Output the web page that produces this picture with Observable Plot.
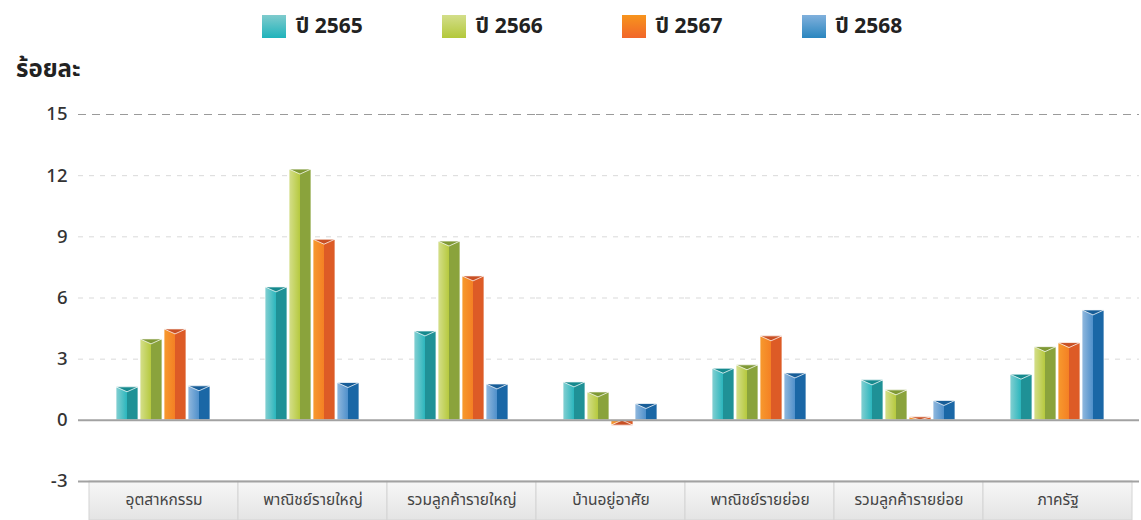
<!DOCTYPE html>
<html><head><meta charset="utf-8">
<script src="https://cdn.jsdelivr.net/npm/d3@7"></script>
<script src="https://cdn.jsdelivr.net/npm/@observablehq/plot@0.6"></script>
<style>
body{margin:0;background:#fff;font-family:"Noto Sans Thai","Noto Sans",sans-serif;color:#222;}
#legend{height:50px;display:flex;align-items:center;padding-left:262px;gap:79px;box-sizing:border-box;padding-top:2px;}
.item{display:flex;align-items:center;gap:10px;font-weight:700;font-size:21px;color:#222;}
.sw{width:24px;height:23px;}
#ylabel{height:45px;box-sizing:border-box;padding-left:16px;padding-top:2px;font-weight:700;font-size:24px;color:#222;}
</style></head>
<body>
<svg width="0" height="0" style="position:absolute"><defs id="defs"></defs></svg>
<div id="legend"></div>
<div id="ylabel">ร้อยละ</div>
<div id="chart"></div>
<script>
const categories = ["อุตสาหกรรม","พาณิชย์รายใหญ่","รวมลูกค้ารายใหญ่","บ้านอยู่อาศัย","พาณิชย์รายย่อย","รวมลูกค้ารายย่อย","ภาครัฐ"];
const years = ["ปี 2565","ปี 2566","ปี 2567","ปี 2568"];
const v2565 = [1.62, 6.52, 4.36, 1.86, 2.53, 1.96, 2.24];
const v2566 = [3.97, 12.3, 8.77, 1.37, 2.70, 1.47, 3.59];
const v2567 = [4.46, 8.86, 7.06, -0.26, 4.12, 0.15, 3.79];
const v2568 = [1.67, 1.83, 1.76, 0.80, 2.30, 0.95, 5.39];
const yTicks = [-3, 0, 3, 6, 9, 12, 15];
const gridTicks = [3, 6, 9, 12];
const topTick = [15];
const baseTicks = [0, -3];
const colLight = ["#85d0d2", "#d5df8c", "#f79a2e", "#92b9de"];
const colMid   = ["#2bb6bd", "#b6c93e", "#f48024", "#4f90cb"];
const colDark  = ["#1f9196", "#8aa33c", "#dd5b26", "#1a67a6"];
const colTop   = ["#168a8e", "#7f9935", "#c95024", "#175d98"];
const swTop    = ["#7fcbcd", "#d3de8a", "#f7941d", "#80b0dc"];
const swBot    = ["#1fb3bb", "#b3c83a", "#f1662a", "#2a86bf"];

const series = [v2565, v2566, v2567, v2568];
const data = categories.flatMap((c, i) => years.map((y, j) => ({cat: c, year: y, value: series[j][i]})));

// gradients
const defs = d3.select("#defs");
years.forEach((y, j) => {
  const g = defs.append("linearGradient").attr("id", "bar" + j).attr("x1", 0).attr("x2", 1).attr("y1", 0).attr("y2", 0);
  g.append("stop").attr("offset", 0).attr("stop-color", colLight[j]);
  g.append("stop").attr("offset", 0.5).attr("stop-color", colMid[j]);
  g.append("stop").attr("offset", 0.5).attr("stop-color", colDark[j]);
  g.append("stop").attr("offset", 1).attr("stop-color", colDark[j]);
});
const bg = defs.append("linearGradient").attr("id", "catbg").attr("x1", 0).attr("x2", 0).attr("y1", 0).attr("y2", 1);
bg.append("stop").attr("offset", 0).attr("stop-color", "#f7f7f7");
bg.append("stop").attr("offset", 1).attr("stop-color", "#e4e4e4");

// legend
const leg = d3.select("#legend");
years.forEach((y, j) => {
  const it = leg.append("div").attr("class", "item");
  it.append("div").attr("class", "sw").style("background", `linear-gradient(${swTop[j]}, ${swBot[j]})`);
  it.append("span").text(y);
});

// horizontal rules, split per facet so they run continuously across the plot
const first = categories[0], last = categories[categories.length - 1];
function rules(ticks, opts) {
  const rows = categories.flatMap(c => ticks.map(t => ({cat: c, t})));
  return [
    Plot.ruleY(rows.filter(d => d.cat === first), {fx: "cat", y: "t", insetLeft: -11, ...opts}),
    Plot.ruleY(rows.filter(d => d.cat !== first && d.cat !== last), {fx: "cat", y: "t", ...opts}),
    Plot.ruleY(rows.filter(d => d.cat === last), {fx: "cat", y: "t", insetRight: -7, ...opts})
  ];
}

const font = '"Noto Sans Thai","Noto Sans",sans-serif';
const chart = Plot.plot({
  width: 1141, height: 425,
  marginTop: 19, marginBottom: 39, marginLeft: 87, marginRight: 7,
  style: {fontFamily: font, color: "#333", background: "transparent", overflow: "visible"},
  fx: {domain: categories, padding: 0, label: null, axis: null},
  x: {domain: years, paddingInner: 0.07, paddingOuter: 1.03, axis: null},
  y: {domain: [-3, 15], axis: null},
  color: {domain: years, range: years.map((_, j) => `url(#bar${j})`)},
  marks: [
    Plot.rect(categories, {fx: d => d, y1: -3, y2: -3, insetBottom: -39, fill: "url(#catbg)", stroke: "#d4d4d4", strokeWidth: 1}),
    ...rules(topTick, {stroke: "#9a9a9a", strokeDasharray: "8,6"}),
    ...rules(gridTicks, {stroke: "#d9d9d9", strokeDasharray: "5,6"}),
    Plot.barY(data, {fx: "cat", x: "year", y: "value", fill: "year", stroke: "#ffffff", strokeOpacity: 0.75, strokeWidth: 1}),
    ...rules(baseTicks, {stroke: "#a2a2a2", strokeWidth: 2}),
    Plot.axisY({ticks: yTicks, tickSize: 0, tickPadding: 22, label: null, fontSize: 18.5, fontWeight: 500, fill: "#333"}),
    Plot.axisFx({anchor: "bottom", tickSize: 0, tickPadding: 12, label: null, fontSize: 15.5, fill: "#444"})
  ]
});
document.getElementById("chart").appendChild(chart);

// 3D top faces derived from rendered bars
const y0 = chart.scale("y").apply(0);
d3.select(chart).selectAll("rect").each(function() {
  const f = this.getAttribute("fill") || "";
  const m = f.match(/url\(#bar(\d)\)/);
  if (!m) return;
  const j = +m[1];
  const x = +this.getAttribute("x"), y = +this.getAttribute("y");
  const w = +this.getAttribute("width"), h = +this.getAttribute("height");
  const neg = y >= y0 - 0.5 && h > 0 && y + h > y0 + 0.5;
  const e = neg ? y + h : y;
  const d = neg ? -Math.min(5, h) : Math.min(5, h);
  d3.select(this.parentNode).append("polygon")
    .attr("points", `${x},${e} ${x + w},${e} ${x + w / 2},${e + d}`)
    .attr("fill", colTop[j]);
});
</script>
</body></html>
